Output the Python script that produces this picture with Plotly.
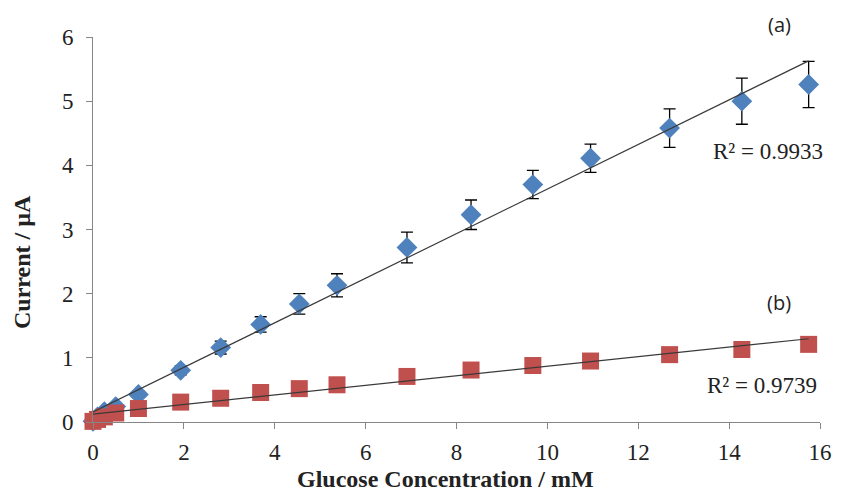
import numpy as np
import plotly.graph_objects as go

# Data
conc = [0.0, 0.1, 0.25, 0.5, 1.0, 1.93, 2.81, 3.69, 4.54, 5.37, 6.91, 8.32, 9.68, 10.95, 12.69, 14.28, 15.75]
current_a = [0.01, 0.08, 0.16, 0.24, 0.43, 0.805, 1.16, 1.52, 1.84, 2.13, 2.72, 3.23, 3.70, 4.11, 4.58, 5.00, 5.26]
err_a = [0.01, 0.02, 0.02, 0.03, 0.05, 0.07, 0.10, 0.12, 0.16, 0.18, 0.24, 0.23, 0.22, 0.22, 0.30, 0.36, 0.36]
current_b = [0.01, 0.04, 0.08, 0.14, 0.21, 0.31, 0.37, 0.46, 0.52, 0.58, 0.71, 0.81, 0.88, 0.95, 1.05, 1.13, 1.21]
x_ticks = [0, 2, 4, 6, 8, 10, 12, 14, 16]
y_ticks = [0, 1, 2, 3, 4, 5, 6]
r2_a = "R² = 0.9933"
r2_b = "R² = 0.9739"

BLUE = "#4F81BD"
RED = "#C0504D"
SERIF = "Liberation Serif, Times New Roman, serif"

fig = go.Figure()

fig.add_trace(go.Scatter(
    x=conc, y=current_a, mode="markers",
    marker=dict(symbol="diamond", size=16, color=BLUE),
    error_y=dict(type="data", array=err_a, visible=True, color="black", thickness=1.3, width=6),
    cliponaxis=False, showlegend=False))
fig.add_trace(go.Scatter(
    x=conc, y=current_b, mode="markers",
    marker=dict(symbol="square", size=17, color=RED),
    cliponaxis=False, showlegend=False))

# linear trendlines (least squares)
xs = np.array([min(conc), max(conc)])
for ys in (current_a, current_b):
    m, c = np.polyfit(conc, ys, 1)
    fig.add_trace(go.Scatter(x=xs, y=m * xs + c, mode="lines",
                             line=dict(color="#3a3a3a", width=1.2),
                             cliponaxis=False, showlegend=False, hoverinfo="skip"))

axis_common = dict(showgrid=False, zeroline=False, showline=True, linecolor="#868686",
                   linewidth=1, ticks="outside", tickcolor="#868686", ticklen=6)

fig.update_xaxes(range=[0, 16], tickvals=x_ticks, ticklabelstandoff=3,
                 tickfont=dict(family=SERIF, size=23, color="#222"), **axis_common)
fig.update_yaxes(range=[0, 6], tickvals=y_ticks, ticklabelstandoff=8,
                 tickfont=dict(family=SERIF, size=23, color="#222"), **axis_common)

fig.update_layout(
    width=844, height=495,
    margin=dict(l=93, r=15, t=37, b=73),
    paper_bgcolor="white", plot_bgcolor="white",
    font=dict(family=SERIF),
    annotations=[
        dict(text="<b>Glucose Concentration / mM</b>", xref="paper", yref="paper",
             x=0.485, y=-0.188, xanchor="center", yanchor="bottom", showarrow=False,
             font=dict(family=SERIF, size=24, color="#222")),
        dict(text="<b>Current / µA</b>", xref="paper", yref="paper",
             x=-0.098, y=0.415, xanchor="center", yanchor="middle", showarrow=False,
             textangle=-90, font=dict(family=SERIF, size=24, color="#222")),
        dict(text="(a)", xref="paper", yref="paper", x=(788 - 93) / 736, y=(422 - 25) / 385,
             xanchor="center", yanchor="middle", showarrow=False,
             font=dict(family="Open Sans", size=20, color="#222")),
        dict(text="(b)", xref="paper", yref="paper", x=(787 - 93) / 736, y=(422 - 302) / 385,
             xanchor="center", yanchor="middle", showarrow=False,
             font=dict(family="Open Sans", size=20, color="#222")),
        dict(text=r2_a, xref="paper", yref="paper", x=(834 - 93) / 736, y=(422 - 151) / 385,
             xanchor="right", yanchor="middle", showarrow=False,
             font=dict(family=SERIF, size=23, color="#222")),
        dict(text=r2_b, xref="paper", yref="paper", x=(828 - 93) / 736, y=(422 - 385) / 385,
             xanchor="right", yanchor="middle", showarrow=False,
             font=dict(family=SERIF, size=23, color="#222")),
    ],
)

fig.write_html("out.html")
